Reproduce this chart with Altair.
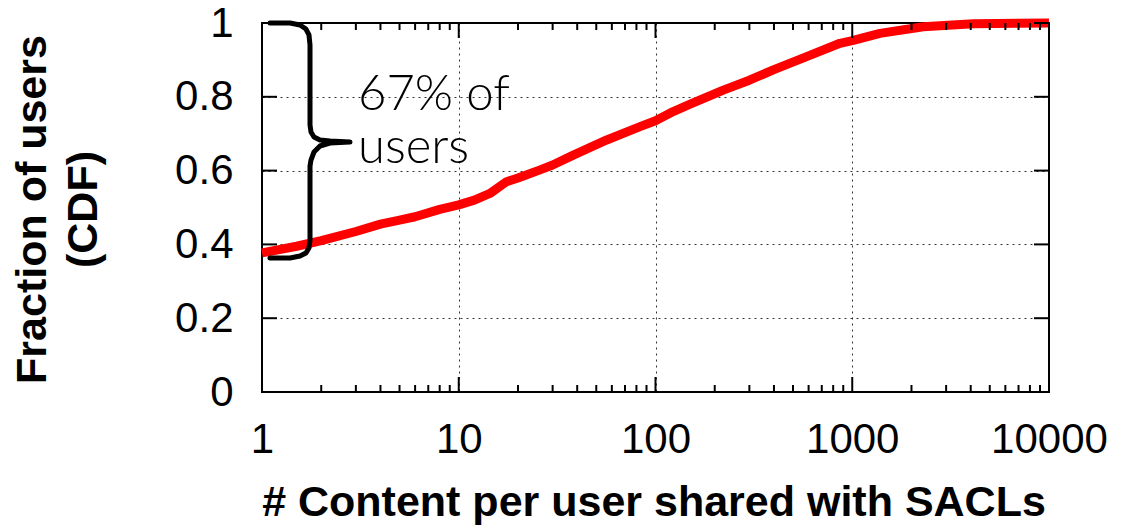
import altair as alt
import pandas as pd

# CDF curve
cdf_x = [1, 1.5, 2, 3, 4, 5, 6, 8, 10, 12, 14.4, 17.5, 20, 25.9, 30, 38.2, 56.5,
         83.4, 100, 123, 150, 221, 300, 397, 586, 866, 1000, 1383, 2296, 4120, 10000]
cdf_y = [0.377, 0.395, 0.41, 0.435, 0.455, 0.466, 0.475, 0.495, 0.507, 0.52, 0.538,
         0.570, 0.58, 0.602, 0.615, 0.642, 0.683, 0.719, 0.735, 0.760, 0.78, 0.818,
         0.845, 0.873, 0.909, 0.945, 0.952, 0.972, 0.99, 0.998, 1.0]

# tick values
x_major = [1, 10, 100, 1000, 10000]
x_minor = [m * d for d in [1, 10, 100, 1000] for m in range(2, 10)]
y_major = [0, 0.2, 0.4, 0.6, 0.8, 1.0]

# brace annotation (data coordinates)
brace_x = [1.098, 1.388, 1.560, 1.673, 1.733, 1.754, 1.754, 1.774, 1.838, 1.971, 2.216, 2.801,
           2.216, 1.971, 1.838, 1.774, 1.754, 1.754, 1.733, 1.673, 1.560, 1.388, 1.098]
brace_y = [1.0, 1.0, 0.9946, 0.9837, 0.9675, 0.9404, 0.7236, 0.7046, 0.6911, 0.6829, 0.6802, 0.6775,
           0.6748, 0.6667, 0.6504, 0.6287, 0.6124, 0.4119, 0.3902, 0.3767, 0.3686, 0.3631, 0.3631]
note_text = ["67% of", "users"]
note_x = [3.076, 3.076]
note_y = [0.764, 0.620]

W, H = 787, 369

xscale = alt.Scale(type="log", domain=[1, 10000], nice=False)
yscale = alt.Scale(domain=[0, 1], nice=False, zero=False)

xaxis = alt.Axis(values=x_major, format="d", title="# Content per user shared with SACLs",
                 grid=True, gridDash=[2, 4], gridColor="#000", gridOpacity=0.8,
                 ticks=False, tickSize=0, domain=False, labelPadding=27,
                 labelFlush=False, labelOverlap=False, labelBound=False,
                 titleX=W / 2 - 2, titleY=123, titleBaseline="alphabetic")
yaxis = alt.Axis(values=y_major, format="~g", title=["Fraction of users", "(CDF)"],
                 grid=True, gridDash=[2, 4], gridColor="#000", gridOpacity=0.8,
                 ticks=False, tickSize=0, domain=False, labelPadding=29,
                 labelFlush=False, labelOverlap=False, labelBound=False,
                 titleX=-217, titleY=186, titleAngle=-90, titleAlign="center",
                 titleBaseline="alphabetic", titleLineHeight=51)

X = alt.X("x:Q", scale=xscale, axis=xaxis)
Y = alt.Y("y:Q", scale=yscale, axis=yaxis)

curve_df = pd.DataFrame({"x": cdf_x, "y": cdf_y})
curve = alt.Chart(curve_df).mark_line(color="#ff0000", strokeWidth=9, strokeJoin="round").encode(
    x=X, y=Y)

ytick_df = pd.DataFrame({"y": y_major})
ytick_l = alt.Chart(ytick_df).mark_rule(color="black", strokeWidth=2).encode(
    y=Y, x=alt.value(0), x2=alt.value(15))
ytick_r = alt.Chart(ytick_df).mark_rule(color="black", strokeWidth=2).encode(
    y=Y, x=alt.value(W - 15), x2=alt.value(W))

xmaj_df = pd.DataFrame({"x": x_major})
xmin_df = pd.DataFrame({"x": x_minor})
xtick_b = alt.Chart(xmaj_df).mark_rule(color="black", strokeWidth=2).encode(
    x=X, y=alt.value(H), y2=alt.value(H - 15))
xtick_t = alt.Chart(xmaj_df).mark_rule(color="black", strokeWidth=2).encode(
    x=X, y=alt.value(0), y2=alt.value(15))
xmin_b = alt.Chart(xmin_df).mark_rule(color="black", strokeWidth=2).encode(
    x=X, y=alt.value(H), y2=alt.value(H - 7))
xmin_t = alt.Chart(xmin_df).mark_rule(color="black", strokeWidth=2).encode(
    x=X, y=alt.value(0), y2=alt.value(7))

brace_df = pd.DataFrame({"x": brace_x, "y": brace_y, "i": list(range(len(brace_x)))})
brace = alt.Chart(brace_df).mark_line(color="black", strokeWidth=5, strokeJoin="round",
                                      strokeCap="round").encode(
    x=X, y=Y, order=alt.Order("i:Q"))

note_df = pd.DataFrame({"x": note_x, "y": note_y, "t": note_text})
note = alt.Chart(note_df).mark_text(font="Lato", fontWeight=300, fontSize=49, align="left",
                                    baseline="alphabetic", color="black").encode(
    x=X, y=Y, text="t:N")

chart = alt.layer(curve, ytick_l, ytick_r, xtick_b, xtick_t, xmin_b, xmin_t, brace, note).properties(
    width=W, height=H,
    padding={"left": 254, "top": 15, "right": 58, "bottom": 133},
    autosize=alt.AutoSizeParams(type="none"),
).configure_view(
    stroke="black", strokeWidth=2
).configure_axis(
    labelFont="Liberation Sans", labelFontSize=42, labelColor="black",
    titleFont="Liberation Sans", titleFontSize=43, titleFontWeight="bold", titleColor="black",
)

chart.save("out.html", embed_options={"renderer": "svg", "actions": False})
